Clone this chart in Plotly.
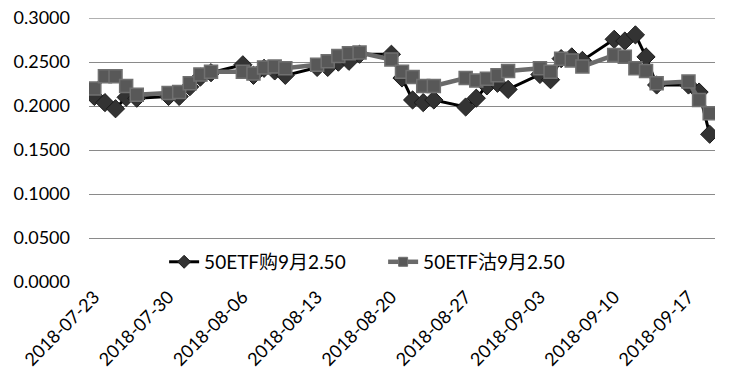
import plotly.graph_objects as go

dates = [
    "2018-07-23", "2018-07-24", "2018-07-25", "2018-07-26", "2018-07-27",
    "2018-07-30", "2018-07-31", "2018-08-01", "2018-08-02", "2018-08-03",
    "2018-08-06", "2018-08-07", "2018-08-08", "2018-08-09", "2018-08-10",
    "2018-08-13", "2018-08-14", "2018-08-15", "2018-08-16", "2018-08-17",
    "2018-08-20", "2018-08-21", "2018-08-22", "2018-08-23", "2018-08-24",
    "2018-08-27", "2018-08-28", "2018-08-29", "2018-08-30", "2018-08-31",
    "2018-09-03", "2018-09-04", "2018-09-05", "2018-09-06", "2018-09-07",
    "2018-09-10", "2018-09-11", "2018-09-12", "2018-09-13", "2018-09-14",
    "2018-09-17", "2018-09-18", "2018-09-19",
]

call_name = "50ETF购9月2.50"
call_values = [
    0.211, 0.204, 0.197, 0.210, 0.209,
    0.211, 0.211, 0.222, 0.233, 0.238,
    0.247, 0.235, 0.243, 0.240, 0.235,
    0.244, 0.244, 0.250, 0.251, 0.259,
    0.259, 0.232, 0.207, 0.204, 0.207,
    0.199, 0.209, 0.223, 0.226, 0.219,
    0.236, 0.230, 0.254, 0.256, 0.252,
    0.276, 0.274, 0.281, 0.256, 0.224,
    0.224, 0.216, 0.168,
]

put_name = "50ETF沽9月2.50"
put_values = [
    0.220, 0.234, 0.234, 0.223, 0.213,
    0.215, 0.216, 0.226, 0.236, 0.239,
    0.239, 0.237, 0.244, 0.245, 0.243,
    0.247, 0.251, 0.257, 0.260, 0.261,
    0.253, 0.239, 0.233, 0.223, 0.223,
    0.232, 0.229, 0.231, 0.235, 0.240,
    0.243, 0.239, 0.254, 0.252, 0.245,
    0.258, 0.256, 0.243, 0.240, 0.226,
    0.228, 0.207, 0.192,
]

x_ticks = ["2018-07-23", "2018-07-30", "2018-08-06", "2018-08-13", "2018-08-20",
           "2018-08-27", "2018-09-03", "2018-09-10", "2018-09-17"]
y_ticks = [0.0, 0.05, 0.10, 0.15, 0.20, 0.25, 0.30]

FONT = "Lato, 'Noto Sans CJK SC', sans-serif"
GRID = "#8a8a8a"

CALL_LINE = dict(color="#000000", width=3)
CALL_FILL, CALL_EDGE = "#333333", "#1a1a1a"
PUT_LINE = dict(color="#6a6a6a", width=4.5)
PUT_FILL, PUT_EDGE = "#585858", "#707070"

fig = go.Figure()
fig.add_trace(go.Scatter(
    x=dates, y=call_values, name=call_name, mode="lines+markers",
    line=CALL_LINE, showlegend=False,
    marker=dict(symbol="diamond", size=14, color=CALL_FILL,
                line=dict(color=CALL_EDGE, width=1)),
))
fig.add_trace(go.Scatter(
    x=dates, y=put_values, name=put_name, mode="lines+markers",
    line=PUT_LINE, showlegend=False,
    marker=dict(symbol="square", size=13, color=PUT_FILL,
                line=dict(color=PUT_EDGE, width=1.5)),
))
# legend proxies (smaller markers, as in the reference legend)
fig.add_trace(go.Scatter(
    x=[None], y=[None], name=call_name, mode="lines+markers", line=CALL_LINE,
    marker=dict(symbol="diamond", size=10, color=CALL_FILL,
                line=dict(color=CALL_EDGE, width=1)),
))
fig.add_trace(go.Scatter(
    x=[None], y=[None], name=put_name, mode="lines+markers", line=PUT_LINE,
    marker=dict(symbol="square", size=9, color=PUT_FILL,
                line=dict(color=PUT_EDGE, width=1)),
))

# top gridline (plotly drops the grid line lying on the plot's top edge)
fig.add_shape(type="line", xref="paper", x0=0, x1=1, yref="y",
              y0=y_ticks[-1], y1=y_ticks[-1], layer="below",
              line=dict(color=GRID, width=1))

fig.update_layout(
    width=730, height=392,
    margin=dict(l=89, r=15, t=18, b=110, autoexpand=False),
    paper_bgcolor="white", plot_bgcolor="white",
    font=dict(family=FONT, size=18, color="#000000"),
    legend=dict(orientation="h", x=0.12, xanchor="left", y=0.076, yanchor="middle",
                bgcolor="rgba(0,0,0,0)", font=dict(size=19),
                entrywidth=174, entrywidthmode="pixels", tracegroupgap=0),
    showlegend=True,
)
fig.update_xaxes(
    type="date", range=["2018-07-22 12:00", "2018-09-19 12:00"],
    tickvals=x_ticks, ticktext=x_ticks, tickangle=-45, automargin=False,
    showgrid=False, zeroline=False, showline=False, ticks="",
)
fig.update_yaxes(
    range=[0, 0.3002], tickvals=y_ticks, ticktext=[f"{v:.4f}" for v in y_ticks],
    showgrid=True, gridcolor=GRID, gridwidth=1, automargin=False,
    zeroline=False, showline=False, ticks="", ticklabelstandoff=18,
)

# remove the browser's default 8px body margin so the figure sits at the page origin
fig.write_html("out.html", config={"displayModeBar": False},
               post_script="document.body.style.margin='0px';")
